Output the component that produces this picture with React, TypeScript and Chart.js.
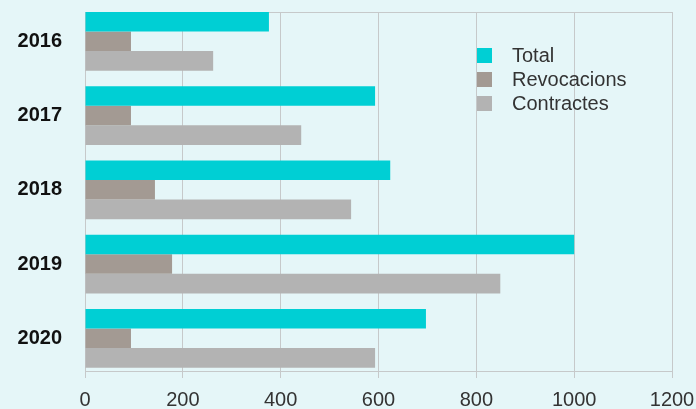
import React, { useEffect, useRef } from "react";
import { Chart, registerables } from "chart.js";

Chart.register(...registerables);

const years = ["2016", "2017", "2018", "2019", "2020"];
const totalValues = [376, 593, 624, 1000, 697];
const revocacionsValues = [94, 94, 143, 178, 94];
const contractesValues = [262, 442, 544, 849, 593];
const xTicks = [0, 200, 400, 600, 800, 1000, 1200];

const seriesNames = ["Total", "Revocacions", "Contractes"];
const seriesColors = ["#00cfd4", "#a39a93", "#b3b3b3"];

const BG = "#e5f6f8";
const GRID = "#c6c9ca";
const FONT = "'Liberation Sans', Arial, sans-serif";

export default function App() {
  const canvasRef = useRef<HTMLCanvasElement | null>(null);

  useEffect(() => {
    const canvas = canvasRef.current;
    if (!canvas) return;

    const topLine = {
      id: "topLine",
      beforeDatasetsDraw(chart: any) {
        const { ctx, chartArea } = chart;
        ctx.save();
        ctx.strokeStyle = GRID;
        ctx.lineWidth = 1;
        ctx.beginPath();
        ctx.moveTo(chartArea.left, chartArea.top + 0.5);
        ctx.lineTo(chartArea.right, chartArea.top + 0.5);
        ctx.stroke();
        ctx.restore();
      },
    };

    const series = [totalValues, revocacionsValues, contractesValues];

    const chart = new Chart(canvas, {
      type: "bar",
      data: {
        datasets: series.map((vals, s) => ({
          label: seriesNames[s],
          data: vals.map((v, i) => ({ x: v, y: i })),
          backgroundColor: seriesColors[s],
          borderWidth: 0,
          barPercentage: 1,
          categoryPercentage: 0.79,
        })),
      },
      options: {
        indexAxis: "y",
        responsive: false,
        animation: false,
        layout: { padding: { top: 12, right: 24, left: 0, bottom: 0 } },
        plugins: {
          legend: { display: false },
          tooltip: { enabled: false },
        },
        scales: {
          x: {
            type: "linear",
            min: 0,
            max: 1200,
            afterBuildTicks(scale: any) {
              scale.ticks = xTicks.map((v) => ({ value: v }));
            },
            afterFit(scale: any) {
              scale.height = 38;
              scale.paddingLeft = 0;
              scale.paddingRight = 0;
            },
            grid: {
              color: GRID,
              lineWidth: 1,
              tickLength: 7,
              tickColor: GRID,
            },
            border: { display: true, color: GRID, width: 1 },
            ticks: {
              callback: (v: any) => String(v),
              font: { family: FONT, size: 20 },
              color: "#333333",
              padding: 10,
              maxRotation: 0,
            },
          },
          y: {
            type: "linear",
            reverse: true,
            offset: false,
            bounds: "data",
            min: -0.395,
            max: 4.44,
            afterDataLimits(scale: any) {
              scale.min = -0.395;
              scale.max = 4.44;
            },
            afterBuildTicks(scale: any) {
              scale.ticks = years.map((_, i) => ({ value: i }));
            },
            afterFit(scale: any) {
              scale.width = 85;
              scale.paddingTop = 0;
              scale.paddingBottom = 0;
            },
            grid: { display: false, offset: false },
            border: { display: true, color: GRID, width: 1 },
            ticks: {
              includeBounds: false,
              callback: (v: any) => years[Number(v)] ?? "",
              font: { family: FONT, size: 20, weight: "bold" },
              color: "#111111",
              padding: 15,
            },
          },
        },
      },
      plugins: [topLine],
    } as any);

    return () => chart.destroy();
  }, []);

  return (
    <div
      style={{
        position: "fixed",
        left: 0,
        top: 0,
        width: 696,
        height: 409,
        background: BG,
        overflow: "hidden",
      }}
    >
      <canvas ref={canvasRef} width={696} height={409} style={{ display: "block" }} />
      <div style={{ position: "absolute", left: 477, top: 43, fontFamily: FONT }}>
        {seriesNames.map((name, i) => (
          <div
            key={name}
            style={{ display: "flex", alignItems: "center", height: 24, fontSize: 20, color: "#333333" }}
          >
            <span
              style={{
                display: "inline-block",
                width: 15,
                height: 15,
                background: seriesColors[i],
                marginRight: 20,
              }}
            />
            <span>{name}</span>
          </div>
        ))}
      </div>
    </div>
  );
}
